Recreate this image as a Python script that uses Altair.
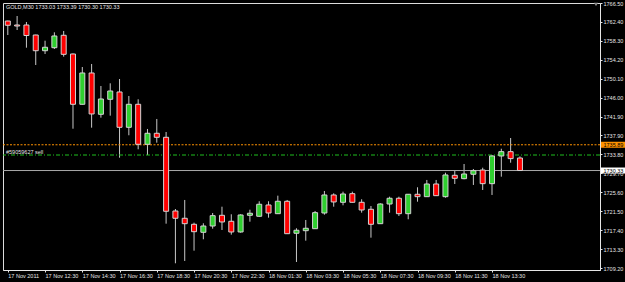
import altair as alt
import pandas as pd

# ---- data (GOLD, M30) ----
opens = [1762.61, 1761.75, 1761.75, 1759.59, 1756.20, 1756.85, 1759.53, 1755.49, 1744.63, 1751.39,
         1742.47, 1745.71, 1747.29, 1739.66, 1744.63, 1735.99, 1738.37, 1737.50, 1721.59, 1720.02,
         1718.72, 1716.99, 1718.35, 1720.66, 1719.37, 1717.06, 1720.66, 1720.45, 1722.89, 1721.01,
         1723.69, 1716.78, 1717.34, 1717.77, 1721.16, 1725.05, 1723.47, 1725.33, 1723.47, 1721.96,
         1718.85, 1723.10, 1724.34, 1721.01, 1725.20, 1724.68, 1727.42, 1724.68, 1729.30, 1728.57,
         1729.52, 1730.44, 1727.49, 1733.47, 1734.40, 1733.03]
highs = [1762.68, 1763.69, 1762.40, 1759.65, 1758.36, 1760.17, 1760.46, 1755.60, 1752.68, 1753.33,
         1748.58, 1749.16, 1750.09, 1746.42, 1745.71, 1739.30, 1741.46, 1738.65, 1722.02, 1723.97,
         1719.07, 1718.94, 1721.16, 1722.52, 1720.88, 1720.88, 1721.87, 1723.69, 1723.69, 1724.90,
         1723.97, 1717.86, 1719.65, 1721.59, 1725.91, 1725.41, 1725.76, 1725.76, 1724.12, 1722.67,
         1723.26, 1724.68, 1724.68, 1725.26, 1726.71, 1728.29, 1728.29, 1729.86, 1730.23, 1731.74,
         1730.66, 1730.94, 1733.68, 1735.04, 1737.35, 1733.39]
lows = [1759.59, 1760.67, 1756.85, 1753.11, 1755.49, 1756.57, 1754.91, 1739.36, 1744.59, 1739.58,
        1741.74, 1742.17, 1733.10, 1737.94, 1734.91, 1733.68, 1736.34, 1718.85, 1710.30, 1710.80,
        1713.02, 1715.48, 1717.77, 1717.49, 1716.48, 1716.91, 1719.28, 1720.36, 1720.15, 1721.01,
        1716.69, 1710.58, 1715.18, 1717.77, 1720.79, 1722.52, 1722.82, 1723.43, 1721.23, 1715.83,
        1718.85, 1721.23, 1720.51, 1719.80, 1723.60, 1724.68, 1724.90, 1724.46, 1727.42, 1728.44,
        1727.21, 1726.13, 1725.05, 1729.00, 1732.02, 1730.30]
closes = [1761.69, 1761.53, 1759.48, 1756.20, 1756.94, 1759.38, 1755.42, 1744.63, 1751.39, 1742.54,
          1745.77, 1747.50, 1739.66, 1744.63, 1735.99, 1738.37, 1737.50, 1721.53, 1720.02, 1718.85,
          1717.12, 1718.35, 1720.58, 1719.22, 1717.06, 1720.73, 1721.10, 1723.04, 1721.16, 1723.69,
          1716.69, 1717.43, 1717.86, 1721.23, 1725.05, 1723.54, 1725.26, 1723.47, 1721.81, 1718.72,
          1723.10, 1724.34, 1721.01, 1725.20, 1724.68, 1727.42, 1724.90, 1729.37, 1728.65, 1729.58,
          1730.29, 1727.49, 1733.47, 1734.40, 1732.90, 1730.33]

time_tick_bars = [0, 4, 8, 12, 16, 20, 24, 28, 32, 36, 40, 44, 48, 52]
time_tick_texts = ["17 Nov 2011", "17 Nov 12:30", "17 Nov 14:30", "17 Nov 16:30", "17 Nov 18:30",
                   "17 Nov 20:30", "17 Nov 22:30", "18 Nov 01:30", "18 Nov 03:30", "18 Nov 05:30",
                   "18 Nov 07:30", "18 Nov 09:30", "18 Nov 11:30", "18 Nov 13:30"]
price_ticks = [1709.20, 1713.30, 1717.40, 1721.50, 1725.60, 1729.70, 1733.80, 1737.90,
               1741.90, 1746.00, 1750.10, 1754.20, 1758.30, 1762.40, 1766.50]

alert_price = [1735.89]
order_price = [1733.68]
bid_price = [1730.33]
order_label = ["#59059627 sell"]
header_text = ["GOLD,M30  1733.03 1733.39 1730.30 1730.33"]

# ---- styling ----
FONT = "Liberation Sans"
FS = 5.5
FG = "#e6e6e6"
UP = "#2fcf2f"
DOWN = "#ff0000"
ORANGE = "#ff9200"
ORDER_GREEN = "#1fbf1f"

W, H = 597, 267

df = pd.DataFrame({"i": list(range(len(opens))), "o": opens, "h": highs, "l": lows, "c": closes})
df["dir"] = ["up" if c >= o else "down" for o, c in zip(opens, closes)]

yscale = alt.Scale(domain=[1708.85, 1766.5], nice=False, zero=False)
xscale = alt.Scale(domain=[0.021, 63.06], nice=False, zero=False)

label_expr = ""
for v, t in zip(time_tick_bars, time_tick_texts):
    label_expr += f"datum.value == {v} ? '{t}' : "
label_expr += "''"

xaxis = alt.Axis(values=time_tick_bars, labelExpr=label_expr,
                 labelAlign="left", labelBaseline="top", tickSize=2, labelPadding=1,
                 title=None, labelOverlap=False, labelFlush=False, grid=False)
yaxis = alt.Axis(orient="right", values=price_ticks, format=".2f", labelAlign="left",
                 labelBaseline="middle", tickSize=2, labelPadding=1,
                 title=None, labelOverlap=False, labelFlush=False, grid=False)


def Y(field):
    return alt.Y(field, scale=yscale, axis=yaxis)


def X(field):
    return alt.X(field, scale=xscale, axis=xaxis)


base = alt.Chart(df)
wicks = base.mark_rule(color="#c8c8c8", strokeWidth=1, clip=True).encode(
    x=X("i:Q"), y=Y("l:Q"), y2="h:Q",
)
bodies = base.mark_bar(size=5, stroke="#d4d4d4", strokeWidth=1, clip=True).encode(
    x=X("i:Q"), y=Y("o:Q"), y2="c:Q",
    color=alt.Color("dir:N", scale=alt.Scale(domain=["up", "down"], range=[UP, DOWN]), legend=None),
)

bid_line = alt.Chart(pd.DataFrame({"p": bid_price})).mark_rule(
    color="#a8a8a8", strokeWidth=1).encode(y=Y("p:Q"))
alert_line = alt.Chart(pd.DataFrame({"p": alert_price})).mark_rule(
    color=ORANGE, strokeWidth=1, strokeDash=[2, 1.5]).encode(y=Y("p:Q"))
order_line = alt.Chart(pd.DataFrame({"p": order_price})).mark_rule(
    color=ORDER_GREEN, strokeWidth=1, strokeDash=[4, 2, 1, 2]).encode(y=Y("p:Q"))
order_text = alt.Chart(pd.DataFrame({"p": order_price, "t": order_label})).mark_text(
    align="left", baseline="bottom", dy=-0.5, font=FONT, fontSize=FS, color=FG).encode(
    x=alt.value(3), y=Y("p:Q"), text="t:N")

alert_tag = alt.Chart(pd.DataFrame({"p": alert_price})).mark_tick(
    orient="horizontal", size=24, thickness=6, color=ORANGE, opacity=1).encode(
    x=alt.value(610), y=Y("p:Q"))
alert_tag_text = alt.Chart(pd.DataFrame({"p": alert_price})).mark_text(
    align="left", baseline="middle", font=FONT, fontSize=FS, color="#000000").encode(
    x=alt.value(600.5), y=Y("p:Q"), text=alt.Text("p:Q", format=".2f"))
bid_tag = alt.Chart(pd.DataFrame({"p": bid_price})).mark_tick(
    orient="horizontal", size=24, thickness=6, color="#ffffff", opacity=1).encode(
    x=alt.value(610), y=Y("p:Q"))
bid_tag_text = alt.Chart(pd.DataFrame({"p": bid_price})).mark_text(
    align="left", baseline="middle", font=FONT, fontSize=FS, color="#000000").encode(
    x=alt.value(600.5), y=Y("p:Q"), text=alt.Text("p:Q", format=".2f"))

header = alt.Chart(pd.DataFrame({"t": header_text})).mark_text(
    align="left", baseline="middle", font=FONT, fontSize=FS, color=FG).encode(
    x=alt.value(3), y=alt.value(4), text="t:N")
shift_marker = alt.Chart(pd.DataFrame({"t": ["shift"]})).mark_point(
    shape="triangle-down", filled=True, size=16, color="#8c8c8c", opacity=1).encode(
    x=alt.value(593), y=alt.value(1.5))

chart = alt.layer(
    wicks, bid_line, alert_line, order_line, bodies, order_text,
    alert_tag, alert_tag_text, bid_tag, bid_tag_text, header, shift_marker,
).properties(
    width=W, height=H, autosize=alt.AutoSizeParams(type="none"),
    padding={"left": 3, "top": 3, "right": 25, "bottom": 12},
    background="#000000",
).configure_view(stroke="#dcdcdc", strokeWidth=1).configure_axis(
    labelFont=FONT, labelFontSize=FS, labelColor=FG, tickColor=FG, domainColor=FG,
    tickWidth=1, domainWidth=1,
)

chart.save("out.html", embed_options={"renderer": "svg", "actions": False})
